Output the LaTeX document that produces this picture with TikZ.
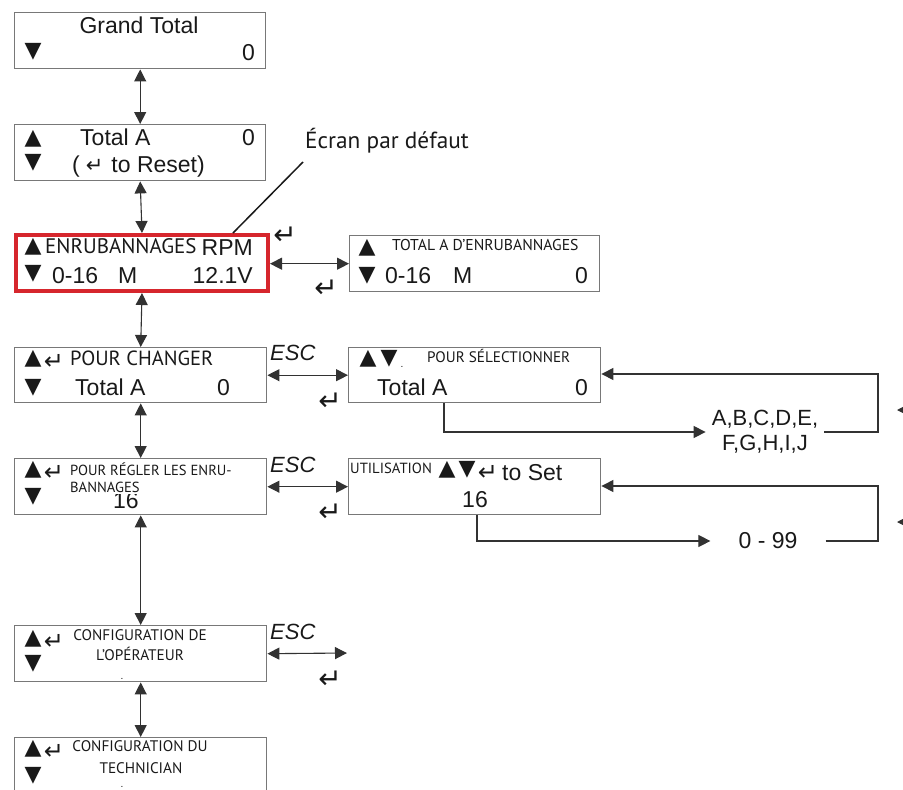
\documentclass[tikz,border=0pt]{standalone}
\usepackage{fontspec}
\setmainfont{Liberation Sans}
\newfontfamily\mys{PT Sans}
\newfontfamily\dvs{DejaVu Sans}
\usetikzlibrary{arrows.meta,calc}
\definecolor{boxgray}{RGB}{120,120,120}
\definecolor{linegray}{RGB}{50,50,50}
\definecolor{lcdred}{RGB}{214,38,45}
\definecolor{txt}{RGB}{25,25,25}
\begin{document}
\begin{tikzpicture}[x=1pt,y=-1pt,
  lcd/.style={draw=boxgray,line width=1.4pt,minimum width=252pt,minimum height=56pt,anchor=north west,inner sep=0pt},
  redlcd/.style={lcd,draw=lcdred,line width=4pt},
  dbl/.style={{Triangle[length=12pt,width=12pt]}-{Triangle[length=12pt,width=12pt]},line width=1.1pt,draw=linegray},
  one/.style={-{Triangle[length=12pt,width=12pt]},line width=1.1pt,draw=linegray},
  onestart/.style={{Triangle[length=12pt,width=12pt]}-,line width=1.1pt,draw=linegray},
  ar/.style={font=\fontsize{23}{27}\selectfont,inner sep=0pt,text=txt},
  fr/.style={font=\mys\fontsize{#1}{#1}\selectfont,inner sep=0pt,text=txt},
  tri/.style={font=\dvs\fontsize{22}{22}\selectfont,inner sep=0pt,text=txt},
  ent/.style={font=\dvs\fontsize{#1}{#1}\selectfont,inner sep=0pt,text=txt},
  esc/.style={font=\itshape\fontsize{22}{22}\selectfont,inner sep=0pt,anchor=base west,text=txt}
]
\useasboundingbox (0,0) rectangle (903,790);
\clip (0,0) rectangle (903,790);

% boxes
\node[lcd,minimum width=251pt] (b1) at (14,12) {};
\node[lcd,minimum width=251pt] (b2) at (14,124) {};
\node[redlcd] (b3) at (14,233) {};
\node[lcd,minimum width=250pt] (b4) at (349,235) {};
\node[lcd,minimum height=55pt] (b5) at (14,347) {};
\node[lcd,minimum height=55pt] (b6) at (348,347) {};
\node[lcd] (b7) at (14,458) {};
\node[lcd] (b8) at (348,458) {};
\node[lcd] (b9) at (14,625) {};
\node[lcd,minimum height=70pt] (b10) at (14,737) {};

% box 1
\node[ar,anchor=base] (t1a) at (139,33) {Grand Total};
\node[tri] (t1d) at (33,52) {▼};
\node[ar,anchor=base east] (t1z) at (255,60) {0};
% box 2
\node[tri] (t2u) at (33,139) {▲};
\node[ar,anchor=base west] (t2a) at (80,145) {Total A};
\node[ar,anchor=base east] (t2z) at (255,145) {0};
\node[tri] (t2d) at (33,163) {▼};
\node[ar,anchor=base west] (t2r) at (72,172) {(\hspace{6pt}{\dvs\fontsize{21}{21}\selectfont ↵}\hspace{8pt}to Reset)};
% box 3
\node[tri] (t3u) at (33,247) {▲};
\node[fr=21,anchor=base west] (t3a) at (45,253) {ENRUBANNAGES};
\node[ar,anchor=base east] (t3r) at (253,255) {RPM};
\node[tri] (t3d) at (33,274) {▼};
\node[ar,anchor=base west] (t3b) at (52,283) {0-16};
\node[ar,anchor=base west] (t3m) at (118,283) {M};
\node[ar,anchor=base east] (t3v) at (253,283) {12.1V};
% box 4
\node[tri] (t4u) at (367,248) {▲};
\node[fr=15.7,anchor=base west] (t4a) at (392,250) {TOTAL A D’ENRUBANNAGES};
\node[tri] (t4d) at (367,276) {▼};
\node[ar,anchor=base west] (t4b) at (385,283) {0-16};
\node[ar,anchor=base west] (t4m) at (453,283) {M};
\node[ar,anchor=base east] (t4z) at (588,283) {0};
% box 5
\node[tri] (t5u) at (33,359) {▲};
\node[ent=24] (t5e) at (54,362) {↵};
\node[fr=20.5,anchor=base west] (t5a) at (70,365) {POUR CHANGER};
\node[tri] (t5d) at (33,388) {▼};
\node[ar,anchor=base west] (t5b) at (75,395) {Total A};
\node[ar,anchor=base east] (t5z) at (230,395) {0};
% box 6
\node[tri] (t6u) at (368,359) {▲};
\node[tri] (t6d) at (389,359) {▼};
\node[ar,font=\fontsize{10}{10}\selectfont,anchor=base] (t6p) at (402,367) {.};
\node[fr=15.2,anchor=base west] (t6a) at (427,362) {POUR SÉLECTIONNER};
\node[ar,anchor=base west] (t6b) at (377,395) {Total A};
\node[ar,anchor=base east] (t6z) at (588,395) {0};
% box 7
\node[tri] (t7u) at (33,470) {▲};
\node[ent=24] (t7e) at (54,473) {↵};
\node[ar,anchor=base west] (t7n) at (113,508) {16};
\node[fr=14.6,anchor=base west] (t7a) at (70,475) {POUR RÉGLER LES ENRU-};
\node[fr=14.6,anchor=base west,fill=white,inner sep=2pt] (t7b) at (68,492) {BANNAGES};
\node[tri] (t7d) at (33,497) {▼};
% box 8
\node[fr=14.7,anchor=base west] (t8a) at (350,473) {UTILISATION};
\node[tri] (t8u) at (447,470) {▲};
\node[tri] (t8d) at (467,470) {▼};
\node[ent=24] (t8e) at (488,473) {↵};
\node[ar,anchor=base west] (t8s) at (502,480) {to Set};
\node[ar,anchor=base] (t8n) at (475,507) {16};
% box 9
\node[tri] (t9u) at (33,639) {▲};
\node[ent=24] (t9e) at (54,642) {↵};
\node[fr=15.3,anchor=base] (t9a) at (140,640) {CONFIGURATION DE};
\node[fr=15.3,anchor=base] (t9b) at (140,660) {L’OPÉRATEUR};
\node[tri] (t9d) at (33,664) {▼};
\node[ar,font=\fontsize{10}{10}\selectfont,anchor=base] (t9p) at (122,679) {.};
% box 10
\node[tri] (t10u) at (33,749) {▲};
\node[ent=24] (t10e) at (54,752) {↵};
\node[fr=15.3,anchor=base] (t10a) at (140,751) {CONFIGURATION DU};
\node[fr=15.3,anchor=base] (t10b) at (141,773) {TECHNICIAN};
\node[tri] (t10d) at (33,776) {▼};
\node[ar,font=\fontsize{10}{10}\selectfont,anchor=base] (t10p) at (122,787) {.};

% vertical connectors
\draw[dbl] (b1.south) -- (b2.north);
\draw[dbl] (b2.south) -- (b3.north);
\draw[dbl] (b3.south) -- (b5.north);
\draw[dbl] (b5.south) -- (b7.north);
\draw[dbl] (b7.south) -- (b9.north);
\draw[dbl] (b9.south) -- (b10.north);

% horizontal connectors
\draw[dbl] (b3.east |- b4.west) -- (b4.west);
\draw[dbl] (b5.east) -- (b6.west);
\draw[dbl] (b7.east) -- (b8.west);
\coordinate (r9) at (347,653);
\draw[dbl] (b9.east) -- (r9);

% ESC and enter labels
\node[esc] (e5) at (270,360) {ESC};
\node[esc] (e7) at (270,472) {ESC};
\node[esc] (e9) at (270,639) {ESC};
\node[ent=28] (n3a) at (285,236) {↵};
\node[ent=28] (n3b) at (326,289) {↵};
\node[ent=28] (n5) at (330,402) {↵};
\node[ent=28] (n7) at (330,513) {↵};
\node[ent=28] (n9) at (330,680) {↵};

% default screen label
\node[fr=23.3,anchor=base west] (ecr) at (305,148) {Écran par défaut};
\coordinate (lt) at (303,162);
\draw[line width=1.5pt,draw=txt] (lt) -- (b3.north -| 233,0);

% selection loop
\node[ar,font=\fontsize{22}{25}\selectfont,align=center,inner xsep=6pt] (abc) at (765,432) {A,B,C,D,E,\\F,G,H,I,J};
\coordinate (c6) at (878,374);
\draw[one] ([xshift=96pt]b6.south west) |- (abc.west);
\draw[one] (abc.east) -| (c6) -- (c6 -| b6.east);

% value loop
\node[ar,inner xsep=28pt] (r99) at (768,541) {0 - 99};
\coordinate (c8) at (878,486);
\draw[one] ([xshift=129pt]b8.south west) |- (r99.west);
\draw[one] (r99.east) -| (c8) -- (c8 -| b8.east);

% cut arrows at right edge
\coordinate (p1) at (897,410);
\coordinate (p2) at (897,522);
\draw[onestart] (p1) -- ++(20,0);
\draw[onestart] (p2) -- ++(20,0);
\end{tikzpicture}
\end{document}
